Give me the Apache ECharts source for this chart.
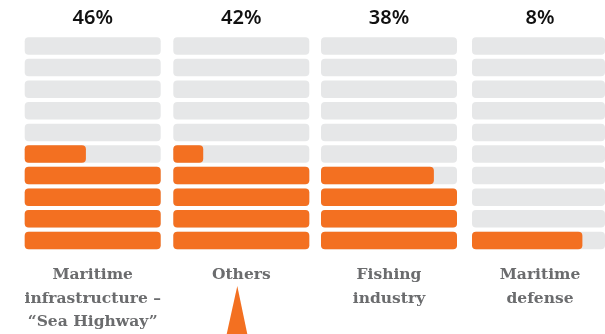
<!DOCTYPE html>
<html>
<head>
<meta charset="utf-8">
<script src="https://cdn.jsdelivr.net/npm/echarts@6/dist/echarts.min.js"></script>
<style>
  html, body { margin: 0; padding: 0; background: #fff; }
  #chart { width: 605px; height: 334px; }
</style>
</head>
<body>
<div id="chart"></div>
<script>
// one column per category, ten bars each (top to bottom), fill fraction of each bar
const categories = ['Maritime\ninfrastructure –\n“Sea Highway”', 'Others', 'Fishing\nindustry', 'Maritime\ndefense'];
const shareLabels = ['46%', '42%', '38%', '8%'];
const fillInfrastructure = [0, 0, 0, 0, 0, 0.45, 1, 1, 1, 1];
const fillOthers = [0, 0, 0, 0, 0, 0.22, 1, 1, 1, 1];
const fillFishing = [0, 0, 0, 0, 0, 0, 0.83, 1, 1, 1];
const fillDefense = [0, 0, 0, 0, 0, 0, 0, 0, 0, 0.83];
const rows = ['1', '2', '3', '4', '5', '6', '7', '8', '9', '10'];

const columnFills = [fillInfrastructure, fillOthers, fillFishing, fillDefense];

const ORANGE = '#F37021';
const GREY = '#E6E7E8';

const colLeft = [24.7, 173.3, 321, 472];
const colWidth = 136;

const chart = echarts.init(document.getElementById('chart'));

const option = {
  animation: false,
  grid: colLeft.map(l => ({ left: l, width: colWidth, top: 35.2, height: 216 })),
  xAxis: colLeft.map((l, i) => ({
    gridIndex: i, type: 'value', min: 0, max: 1, show: false
  })),
  yAxis: colLeft.map((l, i) => ({
    gridIndex: i, type: 'category', data: rows, inverse: true, show: false
  })),
  series: columnFills.map((fill, i) => ({
    type: 'bar',
    xAxisIndex: i,
    yAxisIndex: i,
    data: fill,
    barWidth: 17.5,
    showBackground: true,
    backgroundStyle: { color: GREY, borderRadius: 4 },
    itemStyle: { color: ORANGE, borderRadius: 4 },
    silent: true
  })),
  title: [
    ...shareLabels.map((t, i) => ({
      text: t,
      left: colLeft[i] + colWidth / 2,
      top: 6.5,
      textAlign: 'center',
      padding: 0,
      textStyle: { fontFamily: 'Noto Sans', fontWeight: 600, fontSize: 20, lineHeight: 24, color: '#111' }
    })),
    ...categories.map((t, i) => ({
      text: t,
      left: colLeft[i] + colWidth / 2,
      top: 263.5,
      textAlign: 'center',
      padding: 0,
      textStyle: { fontFamily: 'DejaVu Serif', fontWeight: 'bold', fontSize: 15.5, lineHeight: 23.5, color: '#6b6c6e' }
    }))
  ],
  graphic: [{
    type: 'polygon',
    shape: { points: [[237.3, 286], [226.7, 334], [247.3, 334]] },
    style: { fill: ORANGE },
    silent: true
  }]
};

chart.setOption(option);
</script>
</body>
</html>
